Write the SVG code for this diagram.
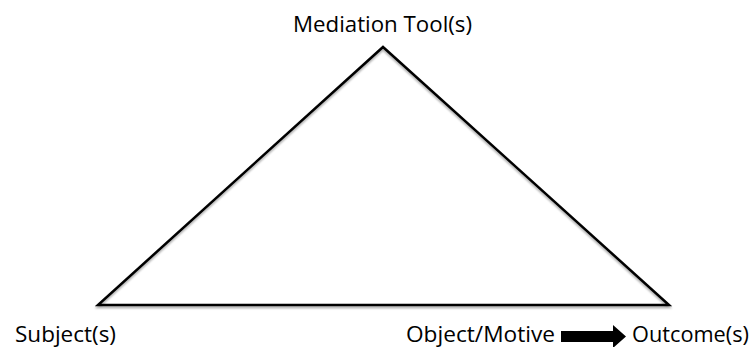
<svg xmlns="http://www.w3.org/2000/svg" width="753" height="347" viewBox="0 0 753 347">
  <style>
    .lbl { font-family: "Open Sans", "Liberation Sans", sans-serif; font-size: 21px; fill: #000; }
    .edge { fill: none; stroke: #000; stroke-width: 2.5; stroke-linejoin: miter; }
  </style>
  <defs>
    <filter id="shadow" x="-5%" y="-5%" width="110%" height="115%">
      <feGaussianBlur in="SourceAlpha" stdDeviation="1.2"/>
      <feOffset dx="0" dy="1.5" result="b"/>
      <feComponentTransfer><feFuncA type="linear" slope="0.35"/></feComponentTransfer>
      <feMerge><feMergeNode/><feMergeNode in="SourceGraphic"/></feMerge>
    </filter>
  </defs>
  <rect width="753" height="347" fill="#fff"/>

  <g id="connectors">
    <polygon class="edge" points="383,47 98,305 669,305" filter="url(#shadow)"/>
    <polygon points="561,331 613,331 613,325 626,336.5 613,348 613,342 561,342" fill="#000"/>
  </g>

  <g id="mediation-tools">
    <text class="lbl" x="293" y="32" textLength="179" lengthAdjust="spacingAndGlyphs">Mediation Tool(s)</text>
  </g>
  <g id="subjects">
    <text class="lbl" x="15" y="342" textLength="101" lengthAdjust="spacingAndGlyphs">Subject(s)</text>
  </g>
  <g id="object-motive">
    <text class="lbl" x="406" y="342" textLength="149" lengthAdjust="spacingAndGlyphs">Object/Motive</text>
  </g>
  <g id="outcomes">
    <text class="lbl" x="632" y="342" textLength="117" lengthAdjust="spacingAndGlyphs">Outcome(s)</text>
  </g>
</svg>
